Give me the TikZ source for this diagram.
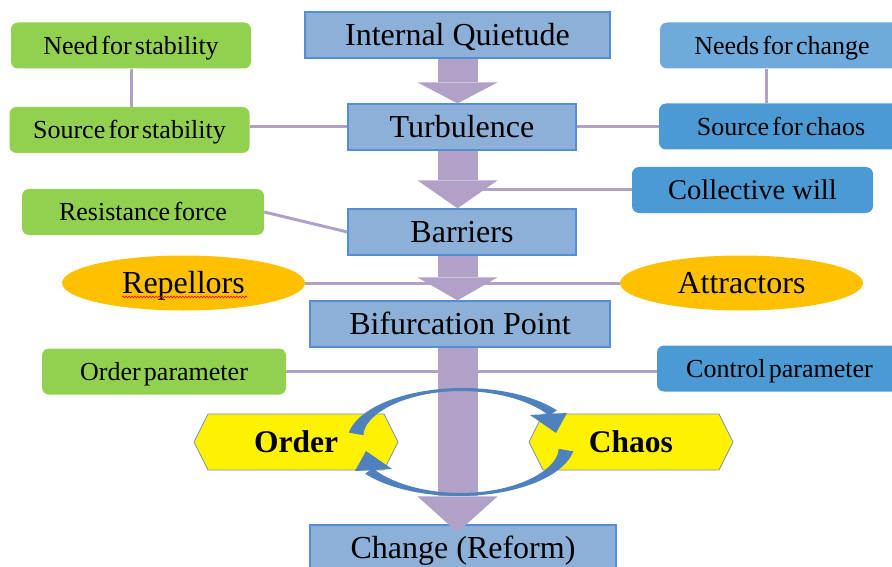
\documentclass[tikz,border=0pt]{standalone}
\usepackage{fontspec}
\setmainfont{Liberation Serif}
\newfontfamily\tightfont[WordSpace=0.5]{Liberation Serif}
\usetikzlibrary{shapes.geometric,shapes.symbols,arrows.meta,decorations.pathmorphing}

\definecolor{boxblue}{RGB}{141,176,216}
\definecolor{edgeblue}{RGB}{86,142,214}
\definecolor{lilac}{RGB}{178,161,199}
\definecolor{leaf}{RGB}{146,208,80}
\definecolor{sky}{RGB}{111,170,221}
\definecolor{deepsky}{RGB}{76,154,212}
\definecolor{amber}{RGB}{255,192,0}
\definecolor{cycblue}{RGB}{79,129,189}
\definecolor{hexedge}{RGB}{120,145,185}

\tikzset{
  stage/.style={draw=edgeblue, line width=1.2pt, fill=boxblue, minimum width=#1,
    minimum height=46pt, inner sep=0pt, text height=21.8pt, text depth=0pt,
    font=\fontsize{32}{36}\selectfont},
  side/.style={fill=#1, rounded corners=7pt, minimum width=240pt, minimum height=46pt,
    inner sep=0pt, text height=17.7pt, text depth=0pt,
    font=\tightfont\fontsize{26}{30}\selectfont},
  pole/.style={ellipse, fill=amber, minimum width=243pt, minimum height=55pt,
    inner sep=0pt, text height=21.8pt, text depth=0pt, font=\fontsize{32}{36}\selectfont},
  state/.style={signal, signal to=west and east, signal pointer angle=127, fill=yellow,
    draw=hexedge, line width=0.8pt, minimum width=204pt, minimum height=56pt,
    inner sep=0pt, text height=21.4pt, text depth=0pt,
    font=\bfseries\fontsize{31.5}{36}\selectfont},
  link/.style={lilac, line width=3pt},
  fat/.style={lilac, line width=40pt, -{Triangle[width=80pt,length=#1,line width=0pt]}},
}

\begin{document}
\begin{tikzpicture}[x=1pt, y=-1pt,
  declare function={w(\a)=3+12*(max(0,\a-95)/75)^2+6*(max(0,95-\a)/57)^2;}]
\useasboundingbox (0,0) rectangle (892,567);
\coordinate (spine) at (457.5,0);

% main column
\node[stage=305pt] (quiet) at (457.5,35) {Internal Quietude};
\node[stage=228pt] (turb) at (462,127) {Turbulence};
\node[stage=228pt] (barr) at (462,232) {Barriers};
\node[stage=300pt] (bif) at (460,324) {Bifurcation Point};
\node[stage=306pt] (change) at (463,548) {Change (Reform)};

% stability side
\node[side=leaf] (needstab) at (131,45.5) {Need for stability};
\node[side=leaf] (srcstab) at (129.5,130) {Source for stability};
\node[side=leaf, minimum width=242pt] (resist) at (143,212) {Resistance force};
\node[side=leaf, minimum width=244pt] (orderp) at (164,371.5) {Order parameter};

% chaos side
\node[side=sky, minimum width=244pt] (needchange) at (782,45.5) {Needs for change};
\node[side=deepsky, minimum width=244pt] (srcchaos) at (781,126.5) {Source for chaos};
\node[side=deepsky, minimum width=241pt, text height=19.4pt,
  font=\fontsize{28.5}{32}\selectfont] (collect) at (752.5,190) {Collective will};
\node[side=deepsky, minimum width=245pt] (controlp) at (779.5,368.5) {Control parameter};

\node[pole] (repel) at (183.5,283) {Repellors};
\node[pole] (attract) at (741.5,283) {Attractors};
\draw[red, line width=0.6pt, decorate, decoration={snake, amplitude=0.9pt, segment length=3pt}]
  (122,297) -- (247,297);

\node[state] (order) at (296,442) {Order};
\node[state] (chaos) at (631,442) {Chaos};

% links
\draw[link] (needstab.south) -- (needstab.south |- srcstab.north);
\draw[link] (srcstab.east |- turb) -- (turb.west);
\draw[link] (turb.east) -- (turb.east -| srcchaos.west);
\draw[link] ([xshift=-16pt]needchange.south) -- ([xshift=-16pt]needchange.south |- srcchaos.north);
\draw[link] (collect.west) -- (collect.west -| spine);
\draw[link] (resist.east) -- (barr.west);
\draw[link] (repel.east) -- (attract.west);
\draw[link] (orderp.east) -- (orderp.east -| controlp.west);

% big arrows
\draw[fat=21pt] (quiet.south -| spine) -- (turb.north -| spine);
\draw[fat=28pt] (turb.south -| spine) -- (barr.north -| spine);
\draw[fat=23pt] (barr.south -| spine) -- (bif.north -| spine);
\draw[fat=36pt] (bif.south -| spine) -- ([yshift=-8pt]change.north -| spine);

% order <-> chaos cycle
\foreach \r/\cx in {0/463,180/461}{
  \begin{scope}[rotate around={\r:(\cx,442)}]
    \fill[cycblue] plot[domain=170:36, samples=45] ({463+116*cos(\x)},{442-54*sin(\x)})
      -- plot[domain=36:170, samples=45] ({463+(116-w(\x))*cos(\x)},{442-(54-w(\x))*sin(\x)}) -- cycle;
    \fill[cycblue] (530,415) -- (567,413) -- (556,433) -- cycle;
  \end{scope}
}
\end{tikzpicture}
\end{document}
